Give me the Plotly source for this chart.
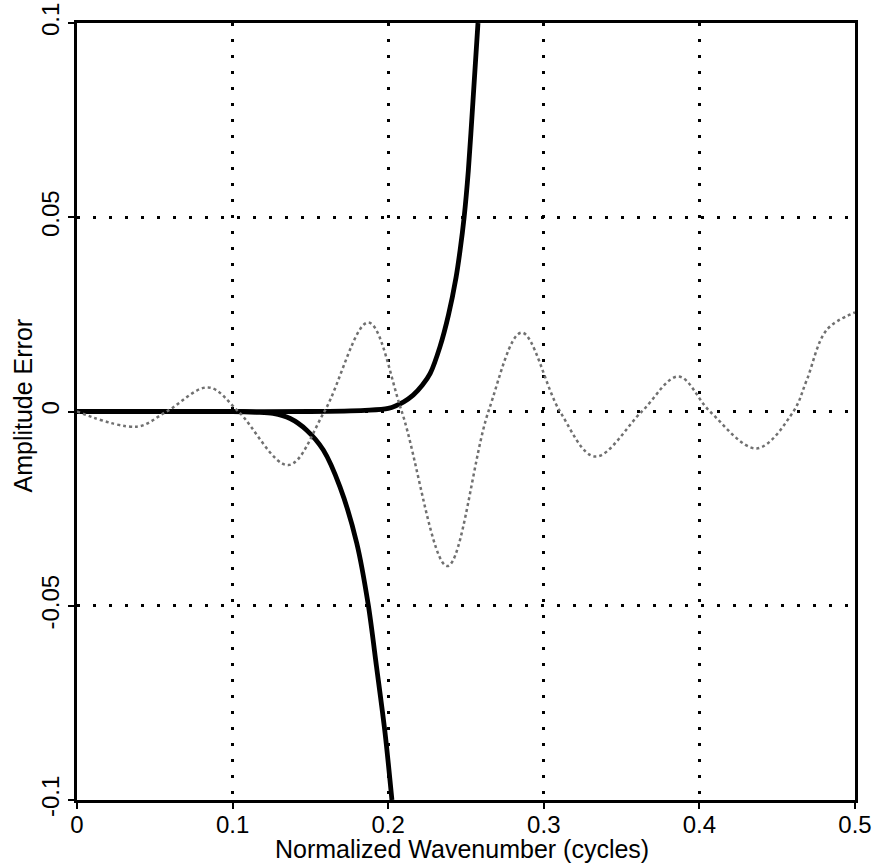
import plotly.graph_objects as go

# Thick rising curve
up_x = [0, 0.1, 0.15, 0.185, 0.2, 0.21, 0.216, 0.222, 0.227, 0.2333, 0.2387, 0.2436, 0.2462, 0.2488, 0.2515, 0.2545, 0.2577]
up_y = [0, 0, 0, 0.0003, 0.0008, 0.0025, 0.0042, 0.0068, 0.0098, 0.0167, 0.0248, 0.0345, 0.0415, 0.050, 0.062, 0.080, 0.1]

# Thick falling curve
down_x = [0, 0.1, 0.115, 0.126, 0.137, 0.1476, 0.1583, 0.169, 0.1798, 0.1872, 0.1925, 0.198, 0.2024]
down_y = [0, 0, -0.0002, -0.0005, -0.0018, -0.0048, -0.0099, -0.0194, -0.0339, -0.0498, -0.0657, -0.0828, -0.1]

# Oscillating (gray dotted) curve
osc_x = [0, 0.0384, 0.0576, 0.0844, 0.1037, 0.1358, 0.159, 0.1872, 0.2087, 0.238, 0.2644, 0.2858,
         0.3104, 0.333, 0.363, 0.3865, 0.4068, 0.4368, 0.4604, 0.469, 0.4818, 0.5]
osc_y = [0, -0.0039, 0, 0.0062, 0, -0.0138, 0, 0.0229, 0, -0.0398, 0, 0.0203,
         0, -0.0116, 0, 0.009, 0, -0.0095, 0, 0.0081, 0.021, 0.0255]

x_ticks = [0, 0.1, 0.2, 0.3, 0.4, 0.5]
x_labels = ["0", "0.1", "0.2", "0.3", "0.4", "0.5"]
y_ticks = [-0.1, -0.05, 0, 0.05, 0.1]
y_labels = ["-0.1", "-0.05", "0", "0.05", "0.1"]

FONT = "Liberation Sans, Arial, Helvetica, sans-serif"

fig = go.Figure()
fig.add_trace(go.Scatter(x=up_x, y=up_y, mode="lines",
                         line=dict(color="black", width=4.8, shape="spline", smoothing=0.8),
                         showlegend=False, hoverinfo="skip"))
fig.add_trace(go.Scatter(x=down_x, y=down_y, mode="lines",
                         line=dict(color="black", width=4.8, shape="spline", smoothing=0.8),
                         showlegend=False, hoverinfo="skip"))
fig.add_trace(go.Scatter(x=osc_x, y=osc_y, mode="lines",
                         line=dict(color="#707070", width=2.5, dash="dot", shape="spline", smoothing=1.0),
                         showlegend=False, hoverinfo="skip"))

axis_common = dict(
    showline=True, linecolor="black", linewidth=2.5, mirror=True,
    showgrid=True, gridcolor="black", gridwidth=3, griddash="3px,13px",
    zeroline=False, ticks="outside", ticklen=6, tickwidth=2, tickcolor="black",
    tickfont=dict(family=FONT, size=24, color="black"),
    ticklabeloverflow="allow",
)

fig.update_xaxes(range=[0, 0.5], tickmode="array", tickvals=x_ticks, ticktext=x_labels,
                 ticklabelstandoff=-5, **axis_common)
fig.update_yaxes(range=[-0.1, 0.1], tickmode="array", tickvals=y_ticks, ticktext=y_labels,
                 tickangle=-90, **axis_common)

fig.add_annotation(text="Normalized Wavenumber (cycles)", xref="paper", yref="paper",
                   x=0.5, y=0, xanchor="center", yanchor="top", xshift=-4, yshift=-33,
                   showarrow=False, font=dict(family=FONT, size=25, color="black"))
fig.add_annotation(text="Amplitude Error", xref="paper", yref="paper",
                   x=0, y=0.5, xanchor="center", yanchor="middle", xshift=-55, yshift=6,
                   textangle=-90, showarrow=False, font=dict(family=FONT, size=25, color="black"))

fig.update_layout(
    width=873, height=864,
    margin=dict(l=77, r=18, t=23, b=64, autoexpand=False),
    paper_bgcolor="white", plot_bgcolor="white",
    font=dict(family=FONT, size=24, color="black"),
)

# Remove the default page margin so the figure sits at the window's top-left corner.
fig.write_html("out.html",
               config={"displayModeBar": False},
               post_script="document.body.style.margin='0px';document.body.style.overflow='hidden';")
